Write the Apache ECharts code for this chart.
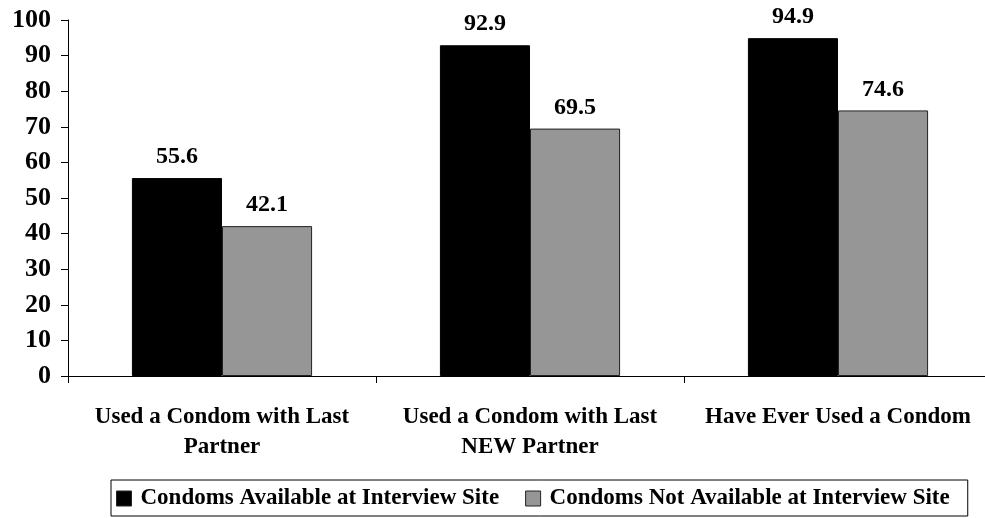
<!DOCTYPE html>
<html>
<head>
<meta charset="utf-8">
<script src="https://cdn.jsdelivr.net/npm/echarts@6/dist/echarts.min.js"></script>
<style>
  html, body { margin: 0; padding: 0; background: #fff; overflow: hidden; }
  /* canvas runs slightly past the right edge so the category axis continues off-page */
  #chart { width: 1000px; height: 518px; }
</style>
</head>
<body>
<div id="chart"></div>
<script>
// Condom use by availability of condoms at the interview site (%)
const categories = [
  'Used a Condom with Last\nPartner',
  'Used a Condom with Last\nNEW Partner',
  'Have Ever Used a Condom'
];
const availableValues = [55.6, 92.9, 94.9];
const notAvailableValues = [42.1, 69.5, 74.6];
const seriesNames = [
  'Condoms Available at Interview Site',
  'Condoms Not Available at Interview Site'
];
const yTicks = { min: 0, max: 100, interval: 10 };

const serif = '"Liberation Serif", "Times New Roman", serif';

const chart = echarts.init(document.getElementById('chart'), null, { renderer: 'canvas' });

const labelStyle = {
  show: true,
  position: 'top',
  distance: 9,
  fontFamily: serif,
  fontWeight: 'bold',
  fontSize: 24,
  color: '#000',
  formatter: p => p.value.toFixed(1)
};

chart.setOption({
  animation: false,
  backgroundColor: '#fff',
  textStyle: { fontFamily: serif },
  grid: { left: 68, width: 924, top: 20, height: 356, containLabel: false },
  legend: {
    left: 111,
    top: 480,
    orient: 'horizontal',
    padding: [5, 18, 4, 5],
    borderColor: '#000',
    borderWidth: 1,
    itemWidth: 15,
    itemHeight: 15,
    itemGap: 26,
    icon: 'rect',
    itemStyle: { borderColor: '#222', borderWidth: 1 },
    textStyle: {
      fontFamily: serif, fontWeight: 'bold', fontSize: 23, lineHeight: 27,
      color: '#000', padding: [0, 0, 0, 4]
    },
    data: seriesNames
  },
  xAxis: {
    type: 'category',
    data: categories,
    axisLine: { lineStyle: { color: '#000', width: 1 } },
    axisTick: { show: true, length: 7, lineStyle: { color: '#000' } },
    axisLabel: {
      margin: 26,
      fontFamily: serif,
      fontWeight: 'bold',
      fontSize: 23,
      lineHeight: 30,
      color: '#000',
      interval: 0
    }
  },
  yAxis: {
    type: 'value',
    min: yTicks.min,
    max: yTicks.max,
    interval: yTicks.interval,
    splitLine: { show: false },
    axisLine: { show: true, lineStyle: { color: '#000', width: 1 } },
    axisTick: { show: true, length: 7, lineStyle: { color: '#000' } },
    axisLabel: {
      margin: 17,
      fontFamily: serif,
      fontWeight: 'bold',
      fontSize: 26,
      color: '#000'
    }
  },
  series: [
    {
      name: seriesNames[0],
      type: 'bar',
      data: availableValues,
      barGap: '0%',
      barCategoryGap: '41.5%',
      itemStyle: { color: '#000', borderColor: '#000', borderWidth: 1 },
      label: labelStyle
    },
    {
      name: seriesNames[1],
      type: 'bar',
      data: notAvailableValues,
      barGap: '0%',
      barCategoryGap: '41.5%',
      itemStyle: { color: '#969696', borderColor: '#222', borderWidth: 1 },
      label: labelStyle
    }
  ]
});
</script>
</body>
</html>
